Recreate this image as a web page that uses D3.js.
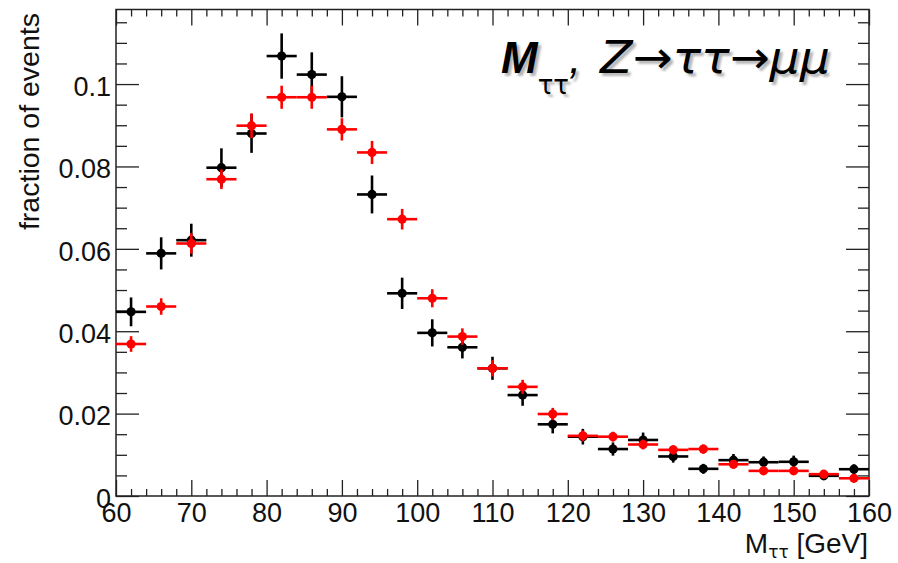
<!DOCTYPE html>
<html>
<head>
<meta charset="utf-8">
<script src="https://cdn.jsdelivr.net/npm/d3@7"></script>
<style>
  body { margin: 0; background: #fff; }
  svg { display: block; font-family: "Liberation Sans", Arial, sans-serif; }
  .axis path { display: none; }
  .axis line { stroke: #222; stroke-width: 1.3; }
  .axis text { font-size: 27px; fill: #111; font-family: "Liberation Sans", Arial, sans-serif; }
</style>
</head>
<body>
<svg id="chart" width="898" height="563"></svg>
<script>
// bin centres (4 GeV bins from 60 to 160)
var binCenters = [62, 66, 70, 74, 78, 82, 86, 90, 94, 98, 102, 106, 110,
                  114, 118, 122, 126, 130, 134, 138, 142, 146, 150, 154, 158];
var binWidth = 4;

// black points
var blackValues = [0.0447, 0.0589, 0.0621, 0.0797, 0.0880, 0.1068, 0.1023, 0.0969, 0.0732, 0.0492, 0.0396, 0.0361, 0.0310,
                   0.0245, 0.0174, 0.0144, 0.0114, 0.0136, 0.0096, 0.0066, 0.0087, 0.0082, 0.0083, 0.0049, 0.0065];
var blackErrors = [0.0035, 0.0039, 0.0040, 0.0047, 0.0047, 0.0055, 0.0054, 0.0050, 0.0046, 0.0038, 0.0033, 0.0027, 0.0028,
                   0.0026, 0.0022, 0.0019, 0.0016, 0.0018, 0.0015, 0.0012, 0.0015, 0.0014, 0.0015, 0.0010, 0.0012];

// red points
var redValues = [0.0369, 0.0460, 0.0613, 0.0769, 0.0899, 0.0968, 0.0968, 0.0890, 0.0834, 0.0672, 0.0480, 0.0387, 0.0310,
                 0.0265, 0.0199, 0.0146, 0.0144, 0.0125, 0.0112, 0.0114, 0.0077, 0.0061, 0.0061, 0.0053, 0.0043];
var redErrors = [0.0019, 0.0020, 0.0025, 0.0024, 0.0030, 0.0028, 0.0028, 0.0027, 0.0028, 0.0025, 0.0022, 0.0020, 0.0020,
                 0.0017, 0.0015, 0.0013, 0.0012, 0.0012, 0.0011, 0.0011, 0.0010, 0.0009, 0.0009, 0.0008, 0.0008];

var xMajorTicks = [60, 70, 80, 90, 100, 110, 120, 130, 140, 150, 160];
var yMajorTicks = [0, 0.02, 0.04, 0.06, 0.08, 0.1];

var svg = d3.select('#chart');

var frame = { left: 116, right: 869, top: 9.5, bottom: 496 };

var x = d3.scaleLinear().domain([60, 160]).range([frame.left, frame.right]);
var y = d3.scaleLinear().domain([0, 0.1181]).range([frame.bottom, frame.top]);

var xMinor = d3.range(60, 160.1, 2).filter(function (v) { return v % 10 !== 0; });
var yMinor = d3.range(0, 0.118, 0.005).filter(function (v) {
  return Math.abs(v / 0.02 - Math.round(v / 0.02)) > 1e-6;
});

/**
 * Axes (ticks drawn inside the frame on all four sides)
 */
svg.append('g').attr('class', 'axis')
  .attr('transform', 'translate(0,' + frame.bottom + ')')
  .call(d3.axisBottom(x).tickValues(xMajorTicks).tickSize(-16).tickPadding(7)
    .tickFormat(d3.format('d')));

svg.append('g').attr('class', 'axis')
  .attr('transform', 'translate(0,' + frame.bottom + ')')
  .call(d3.axisBottom(x).tickValues(xMinor).tickSize(-7).tickFormat(''));

svg.append('g').attr('class', 'axis')
  .attr('transform', 'translate(0,' + frame.top + ')')
  .call(d3.axisTop(x).tickValues(xMajorTicks).tickSize(-16).tickFormat(''));

svg.append('g').attr('class', 'axis')
  .attr('transform', 'translate(0,' + frame.top + ')')
  .call(d3.axisTop(x).tickValues(xMinor).tickSize(-7).tickFormat(''));

var yAxisG = svg.append('g').attr('class', 'axis')
  .attr('transform', 'translate(' + frame.left + ',0)')
  .call(d3.axisLeft(y).tickValues(yMajorTicks).tickSize(-23).tickPadding(5)
    .tickFormat(function (d) { return d === 0 ? '0' : d3.format('~g')(+d.toFixed(2)); }));
yAxisG.selectAll('text').attr('dy', '0.42em');

svg.append('g').attr('class', 'axis')
  .attr('transform', 'translate(' + frame.left + ',0)')
  .call(d3.axisLeft(y).tickValues(yMinor).tickSize(-11).tickFormat(''));

svg.append('g').attr('class', 'axis')
  .attr('transform', 'translate(' + frame.right + ',0)')
  .call(d3.axisRight(y).tickValues(yMajorTicks).tickSize(-23).tickFormat(''));

svg.append('g').attr('class', 'axis')
  .attr('transform', 'translate(' + frame.right + ',0)')
  .call(d3.axisRight(y).tickValues(yMinor).tickSize(-11).tickFormat(''));

// frame
svg.append('rect')
  .attr('x', frame.left).attr('y', frame.top)
  .attr('width', frame.right - frame.left).attr('height', frame.bottom - frame.top)
  .attr('fill', 'none').attr('stroke', '#222').attr('stroke-width', 1.5);

/**
 * Points with error bars
 */
function drawSeries(values, errors, color) {
  var data = binCenters.map(function (c, i) {
    return { x: c, v: values[i], e: errors[i] };
  });

  var g = svg.append('g');

  g.selectAll('line.h').data(data).enter().append('line')
    .attr('class', 'h')
    .attr('x1', function (d) { return x(d.x - binWidth / 2); })
    .attr('x2', function (d) { return x(d.x + binWidth / 2); })
    .attr('y1', function (d) { return y(d.v); })
    .attr('y2', function (d) { return y(d.v); })
    .attr('stroke', color).attr('stroke-width', 2.6);

  g.selectAll('line.v').data(data).enter().append('line')
    .attr('class', 'v')
    .attr('x1', function (d) { return x(d.x); })
    .attr('x2', function (d) { return x(d.x); })
    .attr('y1', function (d) { return y(d.v - d.e); })
    .attr('y2', function (d) { return y(d.v + d.e); })
    .attr('stroke', color).attr('stroke-width', 2.6);

  g.selectAll('circle').data(data).enter().append('circle')
    .attr('cx', function (d) { return x(d.x); })
    .attr('cy', function (d) { return y(d.v); })
    .attr('r', 4.6)
    .attr('fill', color);
}

drawSeries(blackValues, blackErrors, '#000');
drawSeries(redValues, redErrors, '#ff0000');

/**
 * Axis titles
 */
svg.append('text')
  .attr('transform', 'translate(39,13) rotate(-90)')
  .attr('text-anchor', 'end')
  .style('font-size', '28.5px')
  .attr('fill', '#111')
  .text('fraction of events');

var xTitle = svg.append('text')
  .attr('x', 868).attr('y', 553)
  .attr('text-anchor', 'end')
  .style('font-size', '28px')
  .attr('fill', '#111');
xTitle.append('tspan').text('M');
xTitle.append('tspan').style('font-size', '17px')
  .style('font-family', '"DejaVu Sans", sans-serif')
  .attr('dy', 5).text('ττ');
xTitle.append('tspan').attr('dy', -5).text(' [GeV]');

/**
 * Title with drop shadow
 */
function drawTitle(dx, dy, fill) {
  var t = svg.append('text')
    .attr('y', 73 + dy)
    .style('font-size', '44px')
    .style('font-style', 'italic')
    .attr('fill', fill);
  t.append('tspan').attr('x', 501 + dx).style('font-weight', 'bold').text('M');
  t.append('tspan').style('font-size', '26px').style('font-style', 'normal')
    .style('font-family', '"DejaVu Sans", sans-serif')
    .attr('dy', 21).text('ττ');
  t.append('tspan').attr('dy', -21).text(',');
  t.append('tspan').attr('x', 600 + dx)
    .style('font-family', '"DejaVu Sans", sans-serif')
    .style('font-size', '45px')
    .attr('textLength', 230).attr('lengthAdjust', 'spacingAndGlyphs')
    .text('Z→ττ→μμ');
  return t;
}

svg.append('defs').append('filter').attr('id', 'blur')
  .append('feGaussianBlur').attr('stdDeviation', 1);

drawTitle(3, 3, '#b5b5b5').attr('filter', 'url(#blur)');
drawTitle(0, 0, '#000');
</script>
</body>
</html>
